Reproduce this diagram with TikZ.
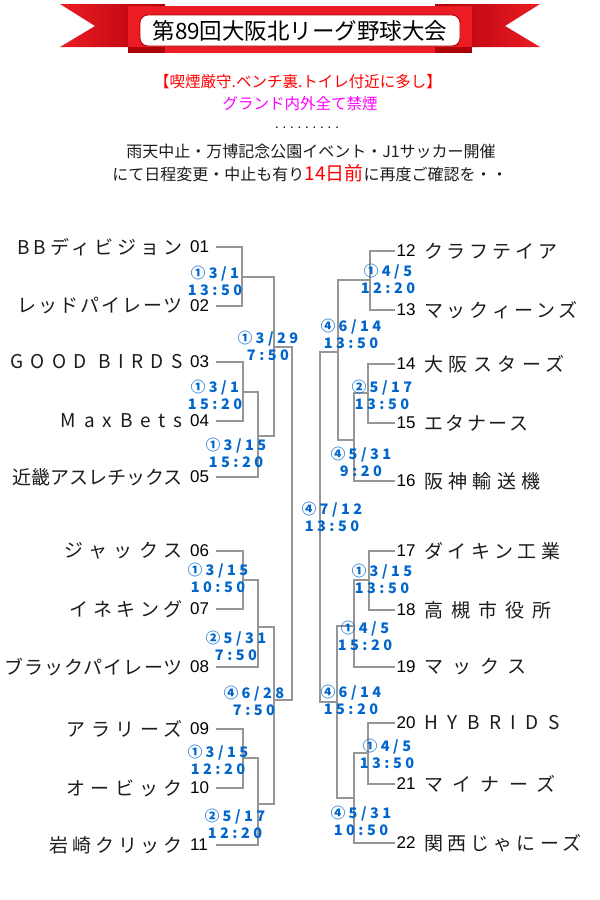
\documentclass[tikz,border=0pt]{standalone}
\usepackage{fontspec}
\setmainfont{Noto Sans CJK JP}
\newfontfamily\numfont{Liberation Sans}
\newfontfamily\datefont[LetterSpace=24]{Noto Sans CJK JP}
\usetikzlibrary{calc}
\definecolor{ribred}{RGB}{236,28,36}
\definecolor{ribdark}{RGB}{175,0,10}
\definecolor{dateblue}{RGB}{0,102,204}
\definecolor{brgray}{RGB}{150,150,150}
\definecolor{inkgray}{RGB}{28,28,28}
\definecolor{pinkban}{RGB}{255,0,255}
\newcommand\tracked[2]{{\addfontfeature{LetterSpace=#1}#2}}
\tikzset{
  teamL/.style={anchor=east, inner sep=0pt, text=inkgray, font=\fontsize{19}{21}\selectfont},
  teamR/.style={anchor=west, inner sep=0pt, text=inkgray, font=\fontsize{19}{21}\selectfont},
  numL/.style={anchor=west, inner xsep=2pt, inner ysep=0pt, text width=24pt, align=left, font=\numfont\fontsize{17}{19}\selectfont},
  numR/.style={anchor=west, inner xsep=1.5pt, inner ysep=0pt, font=\numfont\fontsize{17}{19}\selectfont},
  br/.style={draw=brgray, line width=1.8pt},
  dlbl/.style={inner sep=0pt, align=center, text=dateblue, font=\datefont\bfseries\fontsize{14.5}{17.5}\selectfont}
}

\begin{document}
\begin{tikzpicture}[x=1pt, y=-1pt]
	%%%%% START %%%%%
	\useasboundingbox (0,0) rectangle (600,900);
	
	% ribbon
	\shade[left color=ribred, right color=ribdark] (60,4) -- (165,4) -- (165,47) -- (60,47) -- (95,26) -- cycle;
	\shade[left color=ribdark, right color=ribred] (540,4) -- (435,4) -- (435,47) -- (540,47) -- (505,26) -- cycle;
	\fill[ribred] (128,6) rectangle (472,53);
	\fill[ribdark] (128,47) -- (165,47) -- (165,53) -- (128,53) -- cycle;
	\fill[ribdark] (472,47) -- (435,47) -- (435,53) -- (472,53) -- cycle;
	\draw[fill=white, draw=ribdark, rounded corners=8pt, line width=0.8pt] (140,15) rectangle (460,46);
	\node (title) at (300,31) {\fontsize{22.5}{24}\selectfont 第89回大阪北リーグ野球大会};
	
	\node[text=red, font=\fontsize{15.5}{17}\selectfont] (warn) at (298,82) {【喫煙厳守.ベンチ裏.トイレ付近に多し】};
	\node[text=pinkban, font=\fontsize{15.5}{17}\selectfont] (ban) at (300,104) {グランド内外全て禁煙};
	\node[text=inkgray, font=\fontsize{13}{15}\selectfont] (dots) at (307,128) {\tracked{30}{.........}};
	\node[text=inkgray, font=\fontsize{16}{18}\selectfont] (rain) at (311,151) {雨天中止・万博記念公園イベント・J1サッカー開催};
	\node[text=inkgray, font=\fontsize{16}{18}\selectfont] (check) at (310,173) {にて日程変更・中止も有り{\color{red}\fontsize{19}{20}\selectfont 14日前}に再度ご確認を・・};
	
	% left teams
	\node[teamL] (t01) at (183,247) {\tracked{21}{BBディビジョン}};
	\node[teamL] (t02) at (183,306) {\tracked{10}{レッドパイレーツ}};
	\node[teamL] (t03) at (183,362) {\tracked{39}{GOOD BIRDS}};
	\node[teamL] (t04) at (183,421) {\tracked{42}{MaxBets}};
	\node[teamL] (t05) at (183,477) {\tracked{0}{近畿アスレチックス}};
	\node[teamL] (t06) at (183,551) {\tracked{33}{ジャックス}};
	\node[teamL] (t07) at (183,609) {\tracked{25}{イネキング}};
	\node[teamL] (t08) at (183,667) {\tracked{6}{ブラックパイレーツ}};
	\node[teamL] (t09) at (183,729) {\tracked{29}{アラリーズ}};
	\node[teamL] (t10) at (183,788) {\tracked{28}{オービック}};
	\node[teamL] (t11) at (183,845) {\tracked{20}{岩崎クリック}};
	
	\node[numL] (n01) at (188,247) {01};
	\node[numL] (n02) at (188,306) {02};
	\node[numL] (n03) at (188,362) {03};
	\node[numL] (n04) at (188,421) {04};
	\node[numL] (n05) at (188,477) {05};
	\node[numL] (n06) at (188,551) {06};
	\node[numL] (n07) at (188,609) {07};
	\node[numL] (n08) at (188,667) {08};
	\node[numL] (n09) at (188,729) {09};
	\node[numL] (n10) at (188,788) {10};
	\node[numL] (n11) at (188,845) {11};
	
	% right teams
	\node[numR] (n12) at (395,251) {12};
	\node[numR] (n13) at (395,310) {13};
	\node[numR] (n14) at (395,364) {14};
	\node[numR] (n15) at (395,423) {15};
	\node[numR] (n16) at (395,481) {16};
	\node[numR] (n17) at (395,551) {17};
	\node[numR] (n18) at (395,610) {18};
	\node[numR] (n19) at (395,667) {19};
	\node[numR] (n20) at (395,723) {20};
	\node[numR] (n21) at (395,784) {21};
	\node[numR] (n22) at (395,843) {22};
	
	\node[teamR] (t12) at (424,251) {\tracked{20}{クラフテイア}};
	\node[teamR] (t13) at (424,310) {\tracked{19}{マックィーンズ}};
	\node[teamR] (t14) at (424,364) {\tracked{29}{大阪スターズ}};
	\node[teamR] (t15) at (424,423) {\tracked{13}{エタナース}};
	\node[teamR] (t16) at (424,481) {\tracked{28}{阪神輸送機}};
	\node[teamR] (t17) at (424,551) {\tracked{24}{ダイキン工業}};
	\node[teamR] (t18) at (424,610) {\tracked{43}{高槻市役所}};
	\node[teamR] (t19) at (424,667) {\tracked{47}{マックス}};
	\node[teamR] (t20) at (424,723) {\tracked{50}{HYBRIDS}};
	\node[teamR] (t21) at (424,784) {\tracked{50}{マイナーズ}};
	\node[teamR] (t22) at (424,843) {\tracked{22}{関西じゃにーズ}};
	
	% junctions
	\coordinate (j0102) at (242,277);
	\coordinate (j0304) at (243,392);
	\coordinate (j0305) at (258,436);
	\coordinate (j0105) at (274,347);
	\coordinate (j0607) at (243,580);
	\coordinate (j0608) at (258,627);
	\coordinate (j0910) at (243,758);
	\coordinate (j0911) at (258,804);
	\coordinate (j0611) at (274,700);
	\coordinate (jL) at (292,520);
	\coordinate (j1213) at (370,280);
	\coordinate (j1415) at (368,393);
	\coordinate (j1416) at (354,440);
	\coordinate (j1216) at (338,352);
	\coordinate (j1718) at (369,580);
	\coordinate (j1719) at (354,626);
	\coordinate (j2021) at (368,753);
	\coordinate (j2022) at (354,798);
	\coordinate (j1722) at (337,702);
	\coordinate (jR) at (320,520);
	
	\draw[br] (n01.east) -| (j0102) |- (n02.east);
	\draw[br] (n03.east) -| (j0304) |- (n04.east);
	\draw[br] (j0304) -| (j0305) |- (n05.east);
	\draw[br] (j0102) -| (j0105) |- (j0305);
	\draw[br] (n06.east) -| (j0607) |- (n07.east);
	\draw[br] (j0607) -| (j0608) |- (n08.east);
	\draw[br] (n09.east) -| (j0910) |- (n10.east);
	\draw[br] (j0910) -| (j0911) |- (n11.east);
	\draw[br] (j0608) -| (j0611) |- (j0911);
	\draw[br] (j0105) -| (jL) |- (j0611);
	
	\draw[br] (n12.west) -| (j1213) |- (n13.west);
	\draw[br] (n14.west) -| (j1415) |- (n15.west);
	\draw[br] (j1415) -| (j1416) |- (n16.west);
	\draw[br] (j1213) -| (j1216) |- (j1416);
	\draw[br] (n17.west) -| (j1718) |- (n18.west);
	\draw[br] (j1718) -| (j1719) |- (n19.west);
	\draw[br] (n20.west) -| (j2021) |- (n21.west);
	\draw[br] (j2021) -| (j2022) |- (n22.west);
	\draw[br] (j1719) -| (j1722) |- (j2022);
	\draw[br] (j1216) -| (jR) |- (j1722);
	
	% dates
	\node[dlbl] (m0102) at (215,281) {①3/1\\13:50};
	\node[dlbl] (m0105) at (268,346) {①3/29\\7:50};
	\node[dlbl] (m0304) at (215,395) {①3/1\\15:20};
	\node[dlbl] (m0305) at (236,453) {①3/15\\15:20};
	\node[dlbl] (m0607) at (218,578) {①3/15\\10:50};
	\node[dlbl] (m0608) at (236,646) {②5/31\\7:50};
	\node[dlbl] (m0611) at (254,701) {④6/28\\7:50};
	\node[dlbl] (m0910) at (218,760) {①3/15\\12:20};
	\node[dlbl] (m0911) at (235,824) {②5/17\\12:20};
	\node[dlbl] (m1213) at (388,279) {①4/5\\12:20};
	\node[dlbl] (m1216) at (351,334) {④6/14\\13:50};
	\node[dlbl] (m1415) at (382,395) {②5/17\\13:50};
	\node[dlbl] (m1416) at (361,462) {④5/31\\9:20};
	\node[dlbl] (mfin) at (332,517) {④7/12\\13:50};
	\node[dlbl] (m1718) at (382,579) {①3/15\\13:50};
	\node[dlbl] (m1719) at (365,636) {①4/5\\15:20};
	\node[dlbl] (m1722) at (351,700) {④6/14\\15:20};
	\node[dlbl] (m2021) at (387,754) {①4/5\\13:50};
	\node[dlbl] (m2022) at (361,821) {④5/31\\10:50};
	
	%%%%% END %%%%%
\end{tikzpicture}
\end{document}
